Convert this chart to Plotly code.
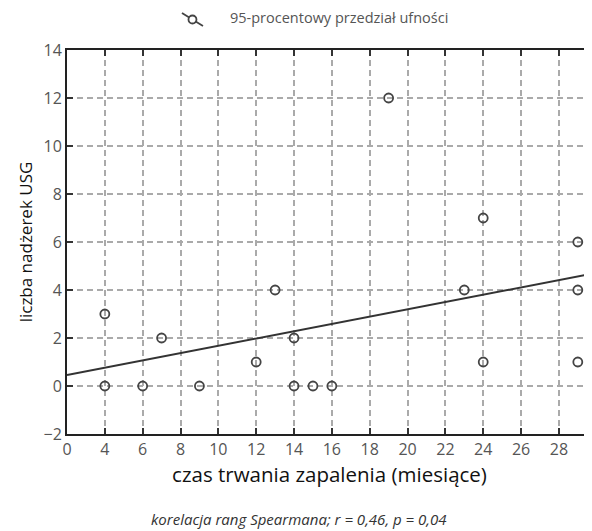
import numpy as np
import plotly.graph_objects as go

# data
months = [4, 4, 6, 7, 9, 12, 13, 14, 14, 15, 16, 19, 23, 24, 24, 29, 29, 29]
lesions = [3, 0, 0, 2, 0, 1, 4, 2, 0, 0, 0, 12, 4, 1, 7, 6, 4, 1]

x_tickvals = [2, 4, 6, 8, 10, 12, 14, 16, 18, 20, 22, 24, 26, 28]
x_ticktext = ["0", "4", "6", "8", "10", "12", "14", "16", "18", "20", "22", "24", "26", "28"]
y_tickvals = [-2, 0, 2, 4, 6, 8, 10, 12, 14]
y_ticktext = ["\u22122", "0", "2", "4", "6", "8", "10", "12", "14"]

x_range = [2, 29.75]
y_range = [-2, 14]

legend_label = "95-procentowy przedział ufności"
footer_text = "korelacja rang Spearmana; r = 0,46, p = 0,04"

slope, intercept = np.polyfit(months, lesions, 1)
line_x = np.array(x_range)
line_y = intercept + slope * line_x

FONT = "Open Sans"
GRAY = "#555555"
MARK = "#444444"

fig = go.Figure()

fig.add_trace(go.Scatter(
    x=line_x, y=line_y, mode="lines",
    line=dict(color="#333333", width=2),
    showlegend=False, hoverinfo="skip",
))

fig.add_trace(go.Scatter(
    x=months, y=lesions, mode="markers",
    marker=dict(symbol="circle-open", size=9, color=MARK,
                line=dict(width=1.8, color=MARK)),
    showlegend=False,
))

# legend key (diagonal line with an open circle), drawn in paper space
legend_shapes = [
    dict(type="line", xref="paper", yref="paper",
         x0=0.219, y0=1.0964, x1=0.259, y1=1.0625,
         line=dict(color=MARK, width=1.8)),
    dict(type="circle", xref="paper", yref="paper",
         x0=0.239 - 0.0076, x1=0.239 + 0.0076,
         y0=1.0794 - 0.0104, y1=1.0794 + 0.0104,
         fillcolor="white", line=dict(color=MARK, width=1.8)),
]

# page body has an 8px margin, so the figure is 8px smaller each way
fig.update_layout(
    width=584, height=523,
    margin=dict(l=59, r=0, t=42, b=97, autoexpand=False),
    paper_bgcolor="white", plot_bgcolor="white",
    font=dict(family=FONT, color=GRAY, size=14),
    showlegend=False,
    shapes=legend_shapes,
    xaxis=dict(
        range=x_range, tickvals=x_tickvals, ticktext=x_ticktext,
        showgrid=True, gridcolor="#aaaaaa", gridwidth=1.5, griddash="6px,4px",
        showline=True, linecolor="#222222", linewidth=2, mirror="ticks",
        ticks="inside", ticklen=6, tickwidth=1.5, tickcolor="#333333",
        tickfont=dict(size=16, color=GRAY, family=FONT),
        zeroline=False, automargin=False,
        title=dict(text="czas trwania zapalenia (miesiące)",
                   font=dict(size=20.5, color="#111111", family=FONT), standoff=4),
    ),
    yaxis=dict(
        range=y_range, tickvals=y_tickvals, ticktext=y_ticktext,
        showgrid=True, gridcolor="#aaaaaa", gridwidth=1.5, griddash="6px,4px",
        showline=True, linecolor="#222222", linewidth=2, mirror=False,
        ticks="inside", ticklen=6, tickwidth=1.5, tickcolor="#333333",
        tickfont=dict(size=16, color=GRAY, family=FONT),
        zeroline=False, automargin=False,
        title=dict(text="liczba nadżerek USG",
                   font=dict(size=17, color="#111111", family=FONT), standoff=7),
    ),
    annotations=[
        dict(text=legend_label, xref="paper", yref="paper",
             x=0.3067, xanchor="left", y=1.0846, yanchor="middle",
             showarrow=False, font=dict(size=14.5, color=GRAY, family=FONT)),
        dict(text="<i>" + footer_text + "</i>",
             xref="paper", yref="paper", x=0.442, y=-0.221, yanchor="middle",
             showarrow=False, font=dict(size=15, color="#333333", family=FONT)),
    ],
)

fig.write_html("out.html")
